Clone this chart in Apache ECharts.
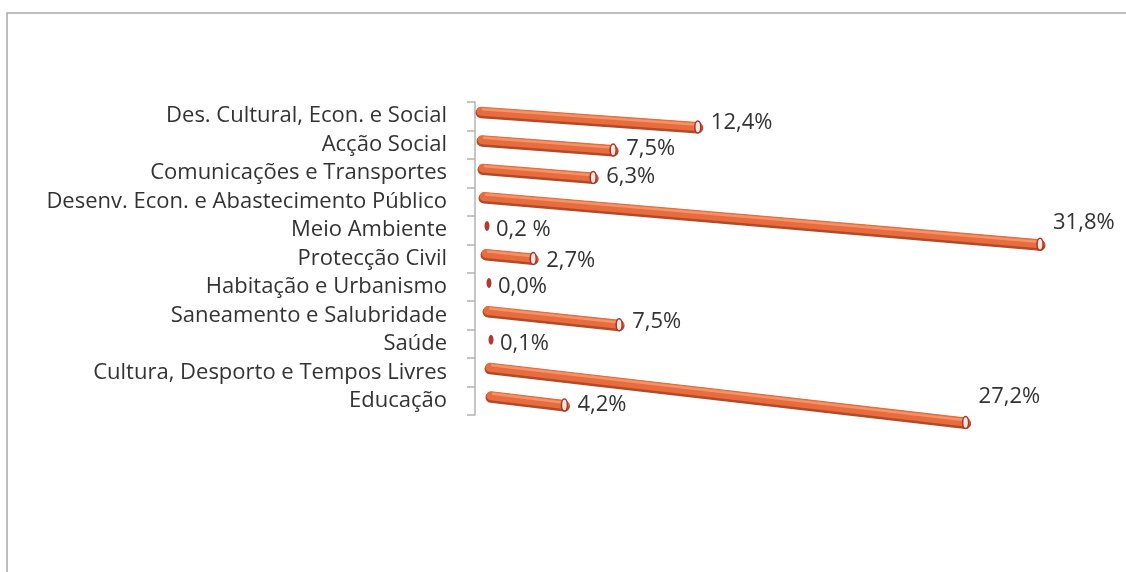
<!DOCTYPE html>
<html>
<head>
<meta charset="utf-8">
<script src="https://cdn.jsdelivr.net/npm/echarts@6/dist/echarts.min.js"></script>
<style>
    html, body { margin: 0; padding: 0; background: #fff; }
    #chart { width: 1126px; height: 572px; }
</style>
</head>
<body>
<div id="chart"></div>
<script>
// categorias, de cima para baixo
var categories = [
    'Des. Cultural, Econ. e Social',
    'Acção Social',
    'Comunicações e Transportes',
    'Desenv. Econ. e Abastecimento Público',
    'Meio Ambiente',
    'Protecção Civil',
    'Habitação e Urbanismo',
    'Saneamento e Salubridade',
    'Saúde',
    'Cultura, Desporto e Tempos Livres',
    'Educação'
];
var values = [12.4, 7.5, 6.3, 31.8, 0.2, 2.7, 0.0, 7.5, 0.1, 27.2, 4.2];
var valueLabels = ['12,4%', '7,5%', '6,3%', '31,8%', '0,2 %', '2,7%', '0,0%', '7,5%', '0,1%', '27,2%', '4,2%'];

(function(){
    var elem = document.getElementById('chart');
    var chart = echarts.init(elem);
    var fontFamily = '"Open Sans", Lato, sans-serif';
    var font = '22px ' + fontFamily;

    function renderItem(params, api) {
        var i = params.dataIndex;
        var v = api.value(0);
        var cat = api.value(1);
        var p0 = api.coord([0, cat]);
        var p1 = api.coord([v, cat]);
        var k = 0.07 + 0.005 * i;          // inclinação (perspectiva)
        var x0 = p0[0] + 6 + i;
        var y0 = p0[1] - 5;
        var len = p1[0] - p0[0];
        var x1 = x0 + len, y1 = y0 + k * len;
        var children = [];
        var lx;
        if (len < 8) {
            children.push({
                type: 'ellipse',
                shape: {cx: x0 + 2, cy: y0 + 1, rx: 2.5, ry: 5},
                style: {fill: '#b23a2c'}
            });
            lx = x0 + 11;
        } else {
            children.push({
                type: 'polyline',
                shape: {points: [[x0, y0 + 1.5], [x1, y1 + 1.5]]},
                style: {stroke: '#b14a28', lineWidth: 11, lineCap: 'round', fill: null}
            });
            children.push({
                type: 'polyline',
                shape: {points: [[x0, y0], [x1, y1]]},
                style: {stroke: '#e96c3e', lineWidth: 9, lineCap: 'round', fill: null}
            });
            children.push({
                type: 'polyline',
                shape: {points: [[x0 + 2, y0 - 2], [x1 - 2, y1 - 2]]},
                style: {stroke: '#f39368', lineWidth: 2.5, lineCap: 'round', fill: null}
            });
            children.push({
                type: 'ellipse',
                shape: {cx: x1, cy: y1 + 0.5, rx: 3, ry: 6},
                style: {fill: '#f6e6df', stroke: '#a8322a', lineWidth: 1.5}
            });
            lx = x1 + 13;
        }
        var ly = p0[1] + (y1 - p0[1]) * 0.45 + 2;
        children.push({
            type: 'text',
            x: lx, y: ly,
            style: {
                text: valueLabels[i],
                fill: '#333',
                font: font,
                align: 'left', verticalAlign: 'middle',
                textAlign: 'left', textVerticalAlign: 'middle'
            }
        });
        return {type: 'group', children: children};
    }

    var option = {
        animation: false,
        graphic: [{
            type: 'rect',
            shape: {x: 7, y: 13, width: 1200, height: 700},
            style: {fill: null, stroke: '#a9a9a9', lineWidth: 1.5},
            silent: true
        }],
        grid: {left: 475, top: 102, width: 612, height: 313},
        xAxis: {
            type: 'value', min: 0, max: 35, show: false
        },
        yAxis: {
            type: 'category',
            inverse: true,
            data: categories,
            axisLine: {show: true, lineStyle: {color: '#b3b3b3', width: 1.5}},
            axisTick: {show: true, interval: 0, length: 8, lineStyle: {color: '#b3b3b3', width: 1.5}},
            axisLabel: {
                interval: 0,
                hideOverlap: false,
                margin: 28,
                color: '#333',
                fontSize: 22,
                fontFamily: fontFamily
            }
        },
        series: [{
            type: 'custom',
            clip: false,
            renderItem: renderItem,
            encode: {x: 0, y: 1},
            data: values.map(function(v, i){ return [v, i]; })
        }]
    };
    chart.setOption(option);
}());
</script>
</body>
</html>
